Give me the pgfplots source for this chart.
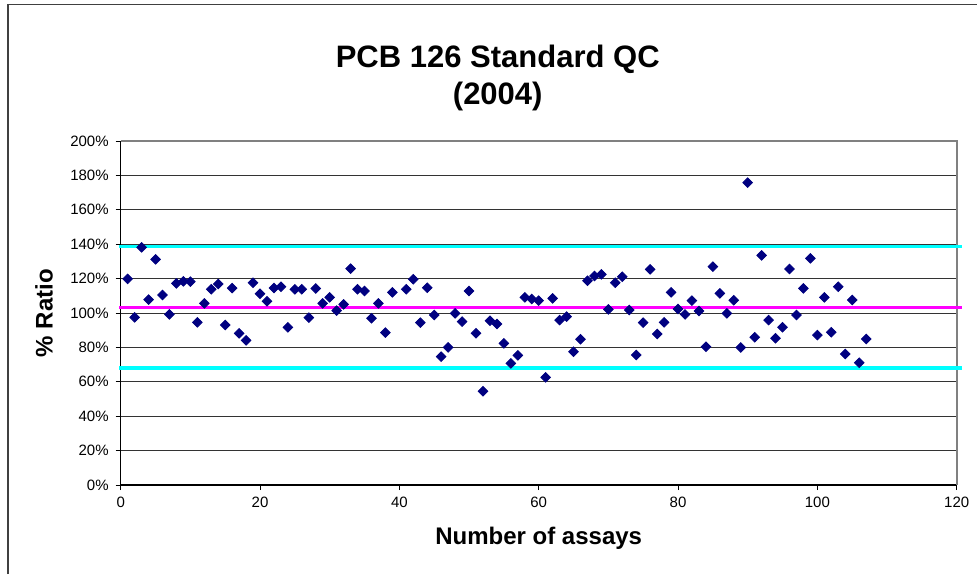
\documentclass[border=0pt]{standalone}
\usepackage{fontspec}
\setmainfont{Liberation Sans}
\usepackage{pgfplots}
\pgfplotsset{compat=1.18}
\definecolor{qcNavy}{RGB}{0,0,128}
\definecolor{qcCyan}{RGB}{0,255,255}
\definecolor{qcMagenta}{RGB}{255,0,255}

\begin{document}
\begin{tikzpicture}
% page = 977x574 px at 0.5pt per px, origin at the lower left of the plot area
\useasboundingbox (-60.35pt,-44.5pt) rectangle (428.15pt,242.5pt);
\draw[black!75, line width=0.75pt] (-56.35pt,-44.5pt) -- (-56.35pt,240.25pt) -- (428.15pt,240.25pt);
\begin{axis}[
    scale only axis,
    width=418pt, height=172pt,
    xmin=0, xmax=120,
    ymin=0, ymax=200,
    xtick={0,20,...,120},
    ytick={0,20,...,200},
    axis lines=left,
    axis line style={-, black, line width=0.6pt},
    tick align=outside,
    major tick length=2.5pt,
    tick style={black, line width=0.5pt},
    ymajorgrids=true,
    grid style={black!80, line width=0.5pt},
    clip=false,
    /pgf/number format/assume math mode=true,
    tick label style={font=\fontsize{7.5pt}{9pt}\selectfont},
    yticklabel={\pgfmathprintnumber{\tick}\%},
    title={PCB 126 Standard QC\\(2004)},
    title style={at={(0.451,1)}, anchor=center, yshift=25.75pt, align=center,
        font=\bfseries\fontsize{15.5pt}{18.5pt}\selectfont},
    xlabel={Number of assays},
    xlabel style={at={(0.5,-0.154)}, anchor=center, font=\bfseries\fontsize{12pt}{14pt}\selectfont},
    ylabel={\% Ratio},
    ylabel style={at={(-0.0917,0.5)}, anchor=center, font=\bfseries\fontsize{12pt}{14pt}\selectfont},
]
\draw[gray, line width=1pt] (rel axis cs:0,1) -- (rel axis cs:1,1) -- (rel axis cs:1,0);
% control limits and mean
\addplot[qcCyan, line width=1.65pt, forget plot] coordinates {(-0.2,138.5) (120.8,138.5)};
\addplot[qcCyan, line width=1.65pt, forget plot] coordinates {(-0.2,68.1) (120.8,68.1)};
\addplot[qcMagenta, line width=1.65pt, forget plot] coordinates {(-0.2,103.4) (120.8,103.4)};
% assays
\addplot[only marks, mark=square*, mark size=1.7pt,
    mark options={rotate=45, fill=qcNavy, draw=qcNavy}] coordinates {
(1,119.8) (2,97.5) (3,138.2) (4,107.8) (5,131.2) (6,110.5) (7,99.2) (8,117.2)
(9,118.4) (10,118.2) (11,94.6) (12,105.6) (13,113.8) (14,116.9) (15,93.0)
(16,114.5) (17,88.2) (18,84.1) (19,117.6) (20,111.2) (21,106.8) (22,114.5)
(23,115.3) (24,91.7) (25,113.8) (26,113.8) (27,97.3) (28,114.3) (29,105.6)
(30,109.1) (31,101.4) (32,105.0) (33,125.8) (34,113.8) (35,112.8) (36,96.9)
(37,105.6) (38,88.6) (39,112.0) (41,113.8) (42,119.6) (43,94.4) (44,114.7)
(45,98.8) (46,74.6) (47,80.0) (48,99.8) (49,95.0) (50,112.8) (51,88.2)
(52,54.5) (53,95.5) (54,93.6) (55,82.4) (56,70.7) (57,75.4) (58,109.1)
(59,108.1) (60,107.2) (61,62.6) (62,108.5) (63,95.9) (64,97.9) (65,77.5)
(66,84.7) (67,118.8) (68,121.5) (69,122.5) (70,102.1) (71,117.6) (72,121.1)
(73,101.7) (74,75.6) (75,94.4) (76,125.4) (77,87.8) (78,94.6) (79,112.0)
(80,102.3) (81,99.2) (82,107.2) (83,101.2) (84,80.4) (85,126.9) (86,111.4)
(87,99.8) (88,107.4) (89,80.0) (90,175.8) (91,85.9) (92,133.5) (93,95.9)
(94,85.3) (95,91.7) (96,125.6) (97,98.8) (98,114.3) (99,131.8) (100,87.2)
(101,109.1) (102,88.8) (103,115.3) (104,76.2) (105,107.6) (106,71.1) (107,84.9)
};
\end{axis}
\end{tikzpicture}
\end{document}
